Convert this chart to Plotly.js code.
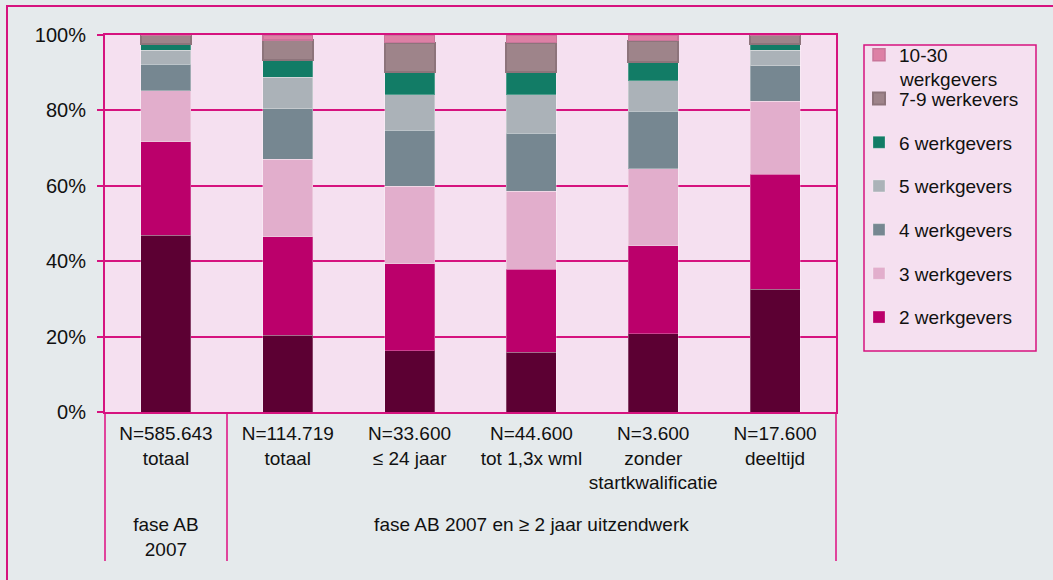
<!DOCTYPE html>
<html>
<head>
<meta charset="utf-8">
<script src="https://cdn.plot.ly/plotly-3.0.1.min.js"></script>
<style>
html,body{margin:0;padding:0;background:#e5eaec;}
#chart{width:1053px;height:580px;}
</style>
</head>
<body>
<div id="chart"></div>
<script>
// Categories (inner level) and groups (outer level)
const categories = [
  "N=585.643<br>totaal",
  "N=114.719<br>totaal",
  "N=33.600<br>≤ 24 jaar",
  "N=44.600<br>tot 1,3x wml",
  "N=3.600<br>zonder<br>startkwalificatie",
  "N=17.600<br>deeltijd"
];
const groups = [
  "fase AB<br>2007",
  "fase AB 2007 en ≥ 2 jaar uitzendwerk",
  "fase AB 2007 en ≥ 2 jaar uitzendwerk",
  "fase AB 2007 en ≥ 2 jaar uitzendwerk",
  "fase AB 2007 en ≥ 2 jaar uitzendwerk",
  "fase AB 2007 en ≥ 2 jaar uitzendwerk"
];

// Percentages per number of employers
const w1    = [46.9, 20.3, 16.3, 15.9, 20.7, 32.6];
const w2    = [24.8, 26.2, 23.0, 22.0, 23.4, 30.4];
const w3    = [13.5, 20.6, 20.6, 20.7, 20.4, 19.4];
const w4    = [7.1, 13.4, 14.8, 15.3, 15.3, 9.4];
const w5    = [3.7, 8.3, 9.5, 10.3, 8.1, 4.1];
const w6    = [1.7, 4.6, 6.0, 6.0, 4.9, 1.8];
const w7_9  = [2.3, 5.3, 7.8, 7.8, 5.7, 2.3];
const w10_30= [0.0, 1.3, 2.0, 2.0, 1.5, 0.0];

const seriesNames = ["1 werkgever", "2 werkgevers", "3 werkgevers", "4 werkgevers",
  "5 werkgevers", "6 werkgevers", "7-9 werkevers", "10-30"];
const legendWrap = "werkgevers"; // second line of the "10-30 werkgevers" legend entry
const seriesValues = [w1, w2, w3, w4, w5, w6, w7_9, w10_30];
const colors = ["#5c0033", "#bb006b", "#e2aecc", "#768791", "#abb2b8", "#127c66", "#9e848a", "#dd80a5"];
const lineColors = ["rgba(255,255,255,0.25)", "rgba(255,255,255,0.25)", "rgba(255,255,255,0.3)",
  "rgba(255,255,255,0.3)", "rgba(255,255,255,0.3)", "rgba(255,255,255,0.25)", "#8d747b", "#c9769a"];
const lineWidths = [1, 1, 1, 1, 1, 1, 2, 1.5];

// invisible spacer line so the group level sits lower, as in the reference
const spacer = '<br><span style="font-size:5px">\u00a0</span>';
const xs = [groups, categories.map(c => c + spacer)];
const traces = seriesNames.map((name, i) => ({
  type: "bar",
  name: name,
  x: xs,
  y: seriesValues[i],
  legendgroup: "g" + i,
  legendrank: 1000 - i * 10,
  showlegend: i !== 0,
  marker: {color: colors[i], line: {color: lineColors[i], width: lineWidths[i]}},
  hoverinfo: "y+name"
}));

const mag = "#d6137f";
const fontFam = "Liberation Sans, Arial, sans-serif";
// pixel helpers for paper coordinates (plot area: x 105..836, y 35..412)
const px = v => (v - 105) / 731;
const py = v => (412 - v) / 377;

const layout = {
  width: 1053, height: 580,
  paper_bgcolor: "#e5eaec",
  plot_bgcolor: "#f5e0f0",
  barmode: "stack",
  bargap: 0.59,
  margin: {l: 105, r: 217, t: 35, b: 168},
  font: {family: fontFam, size: 19, color: "#111"},
  xaxis: {
    type: "multicategory",
    tickangle: 0,
    showline: true, linecolor: mag, linewidth: 2, mirror: true,
    showgrid: false,
    ticks: "",
    ticklabelstandoff: 3,
    tickfont: {family: fontFam, size: 19, color: "#111"},
    showdividers: true, dividercolor: "#e0449c", dividerwidth: 2
  },
  yaxis: {
    range: [0, 100],
    tickvals: [0, 20, 40, 60, 80, 100],
    ticktext: ["0%", "20%", "40%", "60%", "80%", "100%"],
    showline: true, linecolor: mag, linewidth: 2, mirror: true,
    showgrid: true, gridcolor: mag, gridwidth: 2,
    ticks: "outside", ticklen: 6, tickwidth: 2, tickcolor: mag,
    ticklabelstandoff: 7,
    tickfont: {family: fontFam, size: 20, color: "#111"},
    zeroline: false, fixedrange: true
  },
  legend: {
    x: px(859), y: py(36), xanchor: "left", yanchor: "top",
    bgcolor: "rgba(0,0,0,0)", borderwidth: 0,
    traceorder: "grouped", tracegroupgap: 16,
    font: {family: fontFam, size: 19, color: "#111"},
    itemwidth: 30
  },
  annotations: [{
    xref: "paper", yref: "paper", x: px(897), y: py(79),
    xanchor: "left", yanchor: "middle", showarrow: false,
    text: legendWrap, font: {family: fontFam, size: 19, color: "#111"}
  }],
  shapes: [{
    type: "rect", xref: "paper", yref: "paper",
    x0: px(7), x1: px(1070), y0: py(600), y1: py(6),
    line: {color: mag, width: 2}, fillcolor: "rgba(0,0,0,0)", layer: "below"
  }, {
    type: "rect", xref: "paper", yref: "paper",
    x0: px(864), x1: px(1036), y0: py(351), y1: py(45),
    line: {color: mag, width: 1.5}, fillcolor: "#f5e0f0", layer: "below"
  }]
};

Plotly.newPlot("chart", traces, layout, {staticPlot: true});
</script>
</body>
</html>
